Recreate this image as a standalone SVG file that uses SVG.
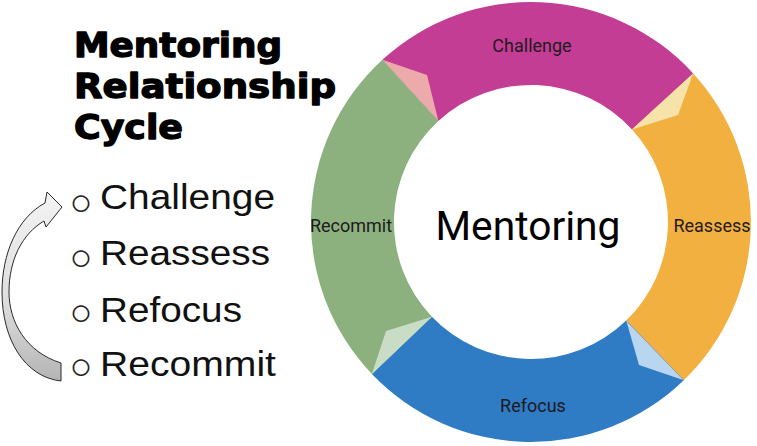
<svg xmlns="http://www.w3.org/2000/svg" width="757" height="446" viewBox="0 0 757 446">
<defs>
<linearGradient id="arrowGrad" x1="0" y1="0" x2="0" y2="1">
<stop offset="0" stop-color="#f4f4f4"/>
<stop offset="0.6" stop-color="#dcdcdc"/>
<stop offset="1" stop-color="#b4b4b4"/>
</linearGradient>
</defs>
<style>
.title{font-family:"DejaVu Sans","Liberation Sans",sans-serif;font-weight:bold;font-size:33px;fill:#000;stroke:#000;stroke-width:1.3px;stroke-linejoin:round}
.item{font-family:"Liberation Sans",Arial,sans-serif;font-size:35px;fill:#111}
.bullet{font-family:"Liberation Sans",Arial,sans-serif;font-size:38px;fill:#222}
.seglabel{font-family:Roboto,"Liberation Sans",sans-serif;font-size:18px;fill:#1e1a1e;text-anchor:middle}
.center{font-family:Roboto,"Liberation Sans",sans-serif;font-size:40px;fill:#000;text-anchor:middle}
</style>
<rect width="757" height="446" fill="#fff"/>

<g id="title">
<text class="title" x="74" y="57" textLength="208" lengthAdjust="spacingAndGlyphs">Mentoring</text>
<text class="title" x="74" y="98" textLength="262" lengthAdjust="spacingAndGlyphs">Relationship</text>
<text class="title" x="74" y="139" textLength="109" lengthAdjust="spacingAndGlyphs">Cycle</text>
</g>

<g id="list">
<g id="item-challenge">
<text class="bullet" x="81" y="215" text-anchor="middle">○</text>
<text class="item" x="100" y="209" textLength="175" lengthAdjust="spacingAndGlyphs">Challenge</text>
</g>
<g id="item-reassess">
<text class="bullet" x="81" y="270" text-anchor="middle">○</text>
<text class="item" x="100" y="265" textLength="170" lengthAdjust="spacingAndGlyphs">Reassess</text>
</g>
<g id="item-refocus">
<text class="bullet" x="81" y="325" text-anchor="middle">○</text>
<text class="item" x="100" y="322" textLength="142" lengthAdjust="spacingAndGlyphs">Refocus</text>
</g>
<g id="item-recommit">
<text class="bullet" x="81" y="379" text-anchor="middle">○</text>
<text class="item" x="100" y="376" textLength="176" lengthAdjust="spacingAndGlyphs">Recommit</text>
</g>
</g>

<g id="connectors">
<path id="cycle-arrow" d="M61,363 C26,352 9,322 9,292 C9,260 22,234 44,221 L46,227 L62,207 L47,192 L45,203 C17,218 2,254 2,292 C2,340 25,377 61,381 Z" fill="url(#arrowGrad)" stroke="#2a2a2a" stroke-width="1" stroke-linejoin="round"/>
</g>

<g id="ring">
<g id="seg-challenge">
<path d="M382.4,59.8 A220,220 0 0 1 693.2,73.4 L632.0,129.4 A137,137 0 0 0 438.4,121.0 Z" fill="#C43D94"/>
<polygon points="382.4,59.8 427,75 438.4,121.0" fill="#ECAAAA"/>
<text class="seglabel" x="532" y="52">Challenge</text>
</g>
<g id="seg-reassess">
<path d="M693.2,73.4 A220,220 0 0 1 683.8,380.2 L626.2,320.5 A137,137 0 0 0 632.0,129.4 Z" fill="#F1B03F"/>
<polygon points="693.2,73.4 678,115 632.0,129.4" fill="#F5E3A9"/>
<text class="seglabel" x="712" y="232">Reassess</text>
</g>
<g id="seg-refocus">
<path d="M683.8,380.2 A220,220 0 0 1 371.9,374.0 L431.9,316.7 A137,137 0 0 0 626.2,320.5 Z" fill="#2F7BC4"/>
<polygon points="626.2,320.5 639,365 683.8,380.2" fill="#B8D6F0"/>
<line x1="626.2" y1="320.5" x2="683.8" y2="380.2" stroke="#9c9f9c" stroke-width="1"/>
<text class="seglabel" x="533" y="412">Refocus</text>
</g>
<g id="seg-recommit">
<path d="M371.9,374.0 A220,220 0 0 1 382.4,59.8 L438.4,121.0 A137,137 0 0 0 431.9,316.7 Z" fill="#8CB17E"/>
<polygon points="431.9,316.7 386,331 371.9,374.0" fill="#C9DDC6"/>
<text class="seglabel" x="351" y="232">Recommit</text>
</g>
<g id="center">
<text class="center" x="528" y="240" textLength="185" lengthAdjust="spacingAndGlyphs">Mentoring</text>
</g>
</g>
</svg>
